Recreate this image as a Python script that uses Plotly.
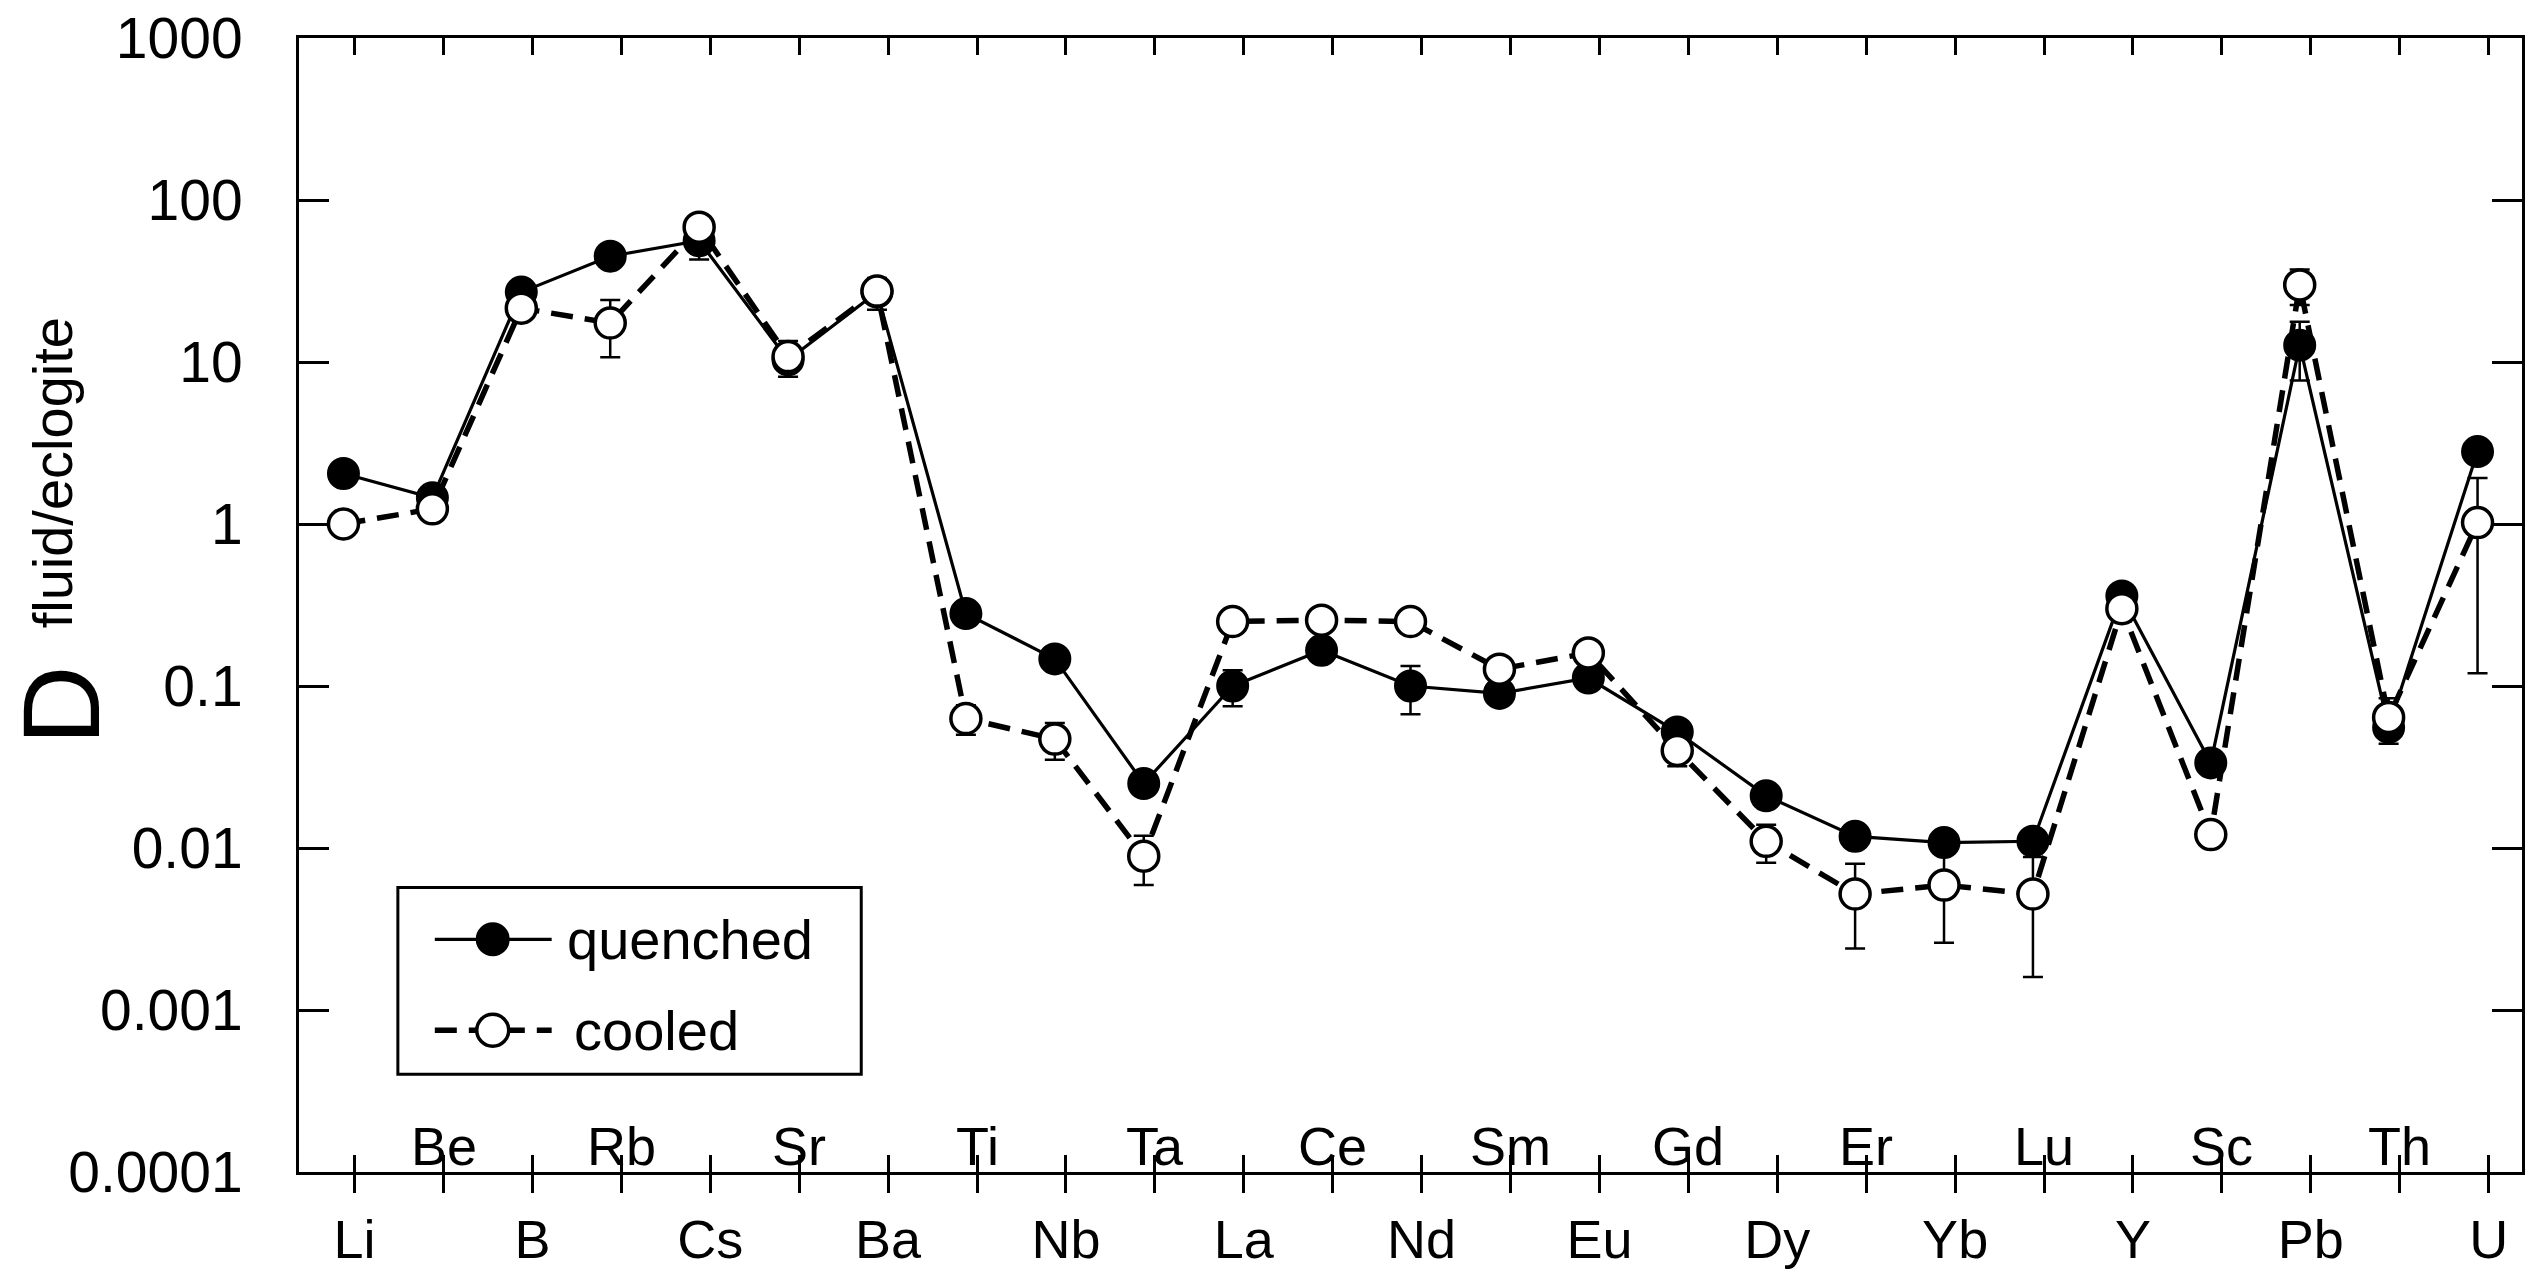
import plotly.graph_objects as go

# ---------------- data ----------------
elements = ["Li", "Be", "B", "Rb", "Cs", "Sr", "Ba", "Ti", "Nb", "Ta", "La", "Ce", "Nd",
            "Sm", "Eu", "Gd", "Dy", "Er", "Yb", "Lu", "Y", "Sc", "Pb", "Th", "U"]

quenched = [2.05, 1.45, 27.0, 45.0, 56.0, 10.3, 27.0, 0.28, 0.147, 0.025, 0.10, 0.166, 0.10,
            0.090, 0.112, 0.052, 0.021, 0.0118, 0.0108, 0.011, 0.36, 0.0335, 12.7, 0.0555, 2.8]
quenched_err = [0, 0, 0, 0, 13.0, 0, 6.0, 0, 0, 0, 0.025, 0, 0.033,
                0, 0, 0, 0, 0, 0, 0, 0, 0, 5.0, 0, 0]

cooled = [1.0, 1.24, 21.5, 17.4, 68.0, 10.8, 27.4, 0.063, 0.047, 0.0089, 0.25, 0.255, 0.25,
          0.127, 0.16, 0.040, 0.011, 0.0052, 0.0059, 0.0052, 0.30, 0.0121, 29.9, 0.064, 1.02]
cooled_err = [0, 0, 0, 6.7, 0, 2.7, 0, 0.013, 0.012, 0.003, 0, 0, 0,
              0, 0, 0.008, 0.0029, 0.0028, 0.0033, 0.0036, 0.05, 0.001, 7.4, 0.02, 0.9]

series_names = ["quenched", "cooled"]

y_tickvals = [0.0001, 0.001, 0.01, 0.1, 1, 10, 100, 1000]
y_ticktext = ["0.0001", "0.001", "0.01", "0.1", "1", "10", "100", "1000"]

y_title_main = "D"
y_title_sup = "fluid/eclogite"

# ---------------- styling ----------------
FONT = "Liberation Sans, Arial, Helvetica, sans-serif"
W, H = 2531, 1275
ML, MR, MT, MB = 299, 6, 33, 82
PW, PH = W - ML - MR, H - MT - MB

def px_x(px):  # page pixel -> paper x
    return (px - ML) / PW

def px_y(py):  # page pixel -> paper y
    return (H - MB - py) / PH

idx = list(range(len(elements)))
TICK_SHIFT = 0.125
tick_pos = [i + TICK_SHIFT for i in idx]
bottom_text = [e if i % 2 == 0 else "" for i, e in enumerate(elements)]
inner_labels = [(tick_pos[i], e) for i, e in enumerate(elements) if i % 2 == 1]
XR = [-0.5, len(elements) - 0.5]

SOLID = dict(color="black", width=3.2)
DASHED = dict(color="black", width=5.5, dash="22px,12px")

fig = go.Figure()

fig.add_trace(go.Scatter(
    x=idx, y=quenched, name=series_names[0], mode="lines+markers",
    line=SOLID,
    marker=dict(symbol="circle", size=31, color="black", line=dict(color="black", width=2)),
    error_y=dict(type="data", array=quenched_err, symmetric=True, color="black",
                 thickness=2.5, width=10),
    showlegend=False,
))

fig.add_trace(go.Scatter(
    x=idx, y=cooled, name=series_names[1], mode="lines+markers", xaxis="x2",
    line=DASHED,
    marker=dict(symbol="circle", size=30, color="white", line=dict(color="black", width=3.5)),
    error_y=dict(type="data", array=cooled_err, symmetric=True, color="black",
                 thickness=2.5, width=10),
    showlegend=False,
))

annotations = []
for xp, lab in inner_labels:
    annotations.append(dict(x=xp, y=0.023, xref="x", yref="paper", text=lab,
                            showarrow=False, xanchor="center", yanchor="middle",
                            font=dict(family=FONT, size=54, color="black")))

# y-axis title: large "D" with a raised, smaller label
annotations.append(dict(
    x=px_x(60), y=px_y(716), xref="paper", yref="paper",
    text=y_title_main, textangle=-90, showarrow=False,
    xanchor="center", yanchor="middle",
    font=dict(family=FONT, size=110, color="black")))
annotations.append(dict(
    x=px_x(52), y=px_y(478), xref="paper", yref="paper",
    text=y_title_sup, textangle=-90, showarrow=False,
    xanchor="center", yanchor="middle",
    font=dict(family=FONT, size=56, color="black")))

# ---------------- legend (drawn box, samples and labels) ----------------
shapes = [dict(type="rect", xref="paper", yref="paper",
               x0=px_x(398), x1=px_x(862), y0=px_y(1093), y1=px_y(902),
               line=dict(color="black", width=3), fillcolor="rgba(0,0,0,0)")]

legend_rows = [
    (series_names[0], 955, SOLID, "black", 2, 565),
    (series_names[1], 1048, DASHED, "white", 3.5, 572),
]
for name, ry, lstyle, fill, lw, tx in legend_rows:
    shapes.append(dict(type="line", xref="paper", yref="paper",
                       x0=px_x(435), x1=px_x(552), y0=px_y(ry), y1=px_y(ry),
                       line=lstyle))
    shapes.append(dict(type="circle", xref="paper", yref="paper",
                       xsizemode="pixel", ysizemode="pixel",
                       xanchor=px_x(493), yanchor=px_y(ry),
                       x0=-16, x1=16, y0=-16, y1=16,
                       fillcolor=fill, line=dict(color="black", width=lw)))
    annotations.append(dict(x=px_x(tx), y=px_y(ry), xref="paper", yref="paper",
                            text=name, showarrow=False, xanchor="left", yanchor="middle",
                            font=dict(family=FONT, size=56, color="black")))

fig.update_layout(
    width=W, height=H,
    margin=dict(l=ML, r=MR, t=MT, b=MB),
    paper_bgcolor="white", plot_bgcolor="white",
    font=dict(family=FONT, size=54, color="black"),
    showlegend=False,
    annotations=annotations,
    shapes=shapes,
    xaxis=dict(range=XR, tickmode="array", tickvals=tick_pos, ticktext=bottom_text,
               ticks="outside", ticklen=18, tickwidth=3, tickcolor="black",
               showline=True, linecolor="black", linewidth=3, mirror=True,
               showgrid=False, zeroline=False,
               tickfont=dict(family=FONT, size=54, color="black")),
    xaxis2=dict(range=XR, overlaying="x", anchor="y", side="bottom",
                tickmode="array", tickvals=tick_pos, ticktext=["" for _ in idx],
                ticks="inside", ticklen=17, tickwidth=3, tickcolor="black",
                mirror="ticks", showline=False, showgrid=False, zeroline=False,
                showticklabels=False),
    yaxis=dict(type="log", range=[-4, 3], tickmode="array", tickvals=y_tickvals,
               ticktext=y_ticktext, ticks="inside", ticklen=30, tickwidth=3,
               tickcolor="black", showline=True, linecolor="black", linewidth=3,
               mirror="ticks", showgrid=False, zeroline=False, ticklabelstandoff=42,
               tickfont=dict(family=FONT, size=57, color="black")),
)

fig.write_html("out.html")
